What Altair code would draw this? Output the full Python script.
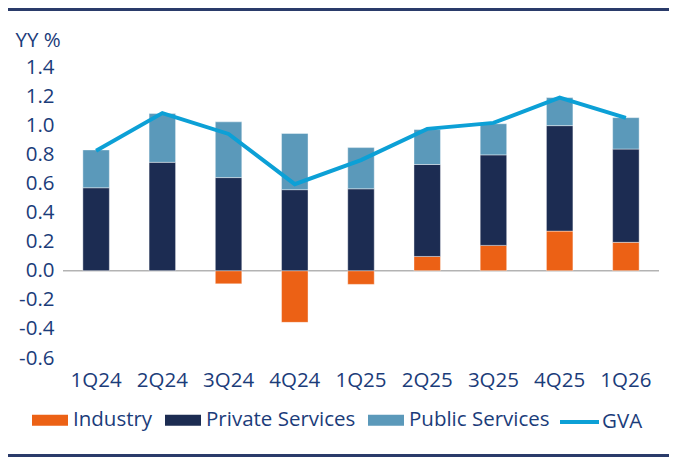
import altair as alt
import pandas as pd

quarters = ["1Q24", "2Q24", "3Q24", "4Q24", "1Q25", "2Q25", "3Q25", "4Q25", "1Q26"]
industry = [0.0, 0.0, -0.09, -0.355, -0.094, 0.098, 0.174, 0.272, 0.195]
private_services = [0.57, 0.745, 0.64, 0.557, 0.563, 0.632, 0.622, 0.725, 0.641]
public_services = [0.26, 0.335, 0.383, 0.386, 0.283, 0.24, 0.214, 0.193, 0.216]
gva = [0.825, 1.083, 0.94, 0.595, 0.76, 0.975, 1.016, 1.19, 1.05]
y_ticks = [-0.6, -0.4, -0.2, 0.0, 0.2, 0.4, 0.6, 0.8, 1.0, 1.2, 1.4]

bar_series = ["Industry", "Private Services", "Public Services"]
bar_colors = ["#ec6115", "#1c2c52", "#5b99ba"]
line_color = "#0ca0d6"
text_color = "#1b3c7a"
rule_color = "#2a3b6a"
FONT = "Open Sans"
FS = 20.5

rows = []
for i, q in enumerate(quarters):
    for k, (name, vals) in enumerate(zip(bar_series, [industry, private_services, public_services])):
        rows.append({"q": q, "series": name, "value": vals[i], "ord": k})
bars_df = pd.DataFrame(rows)
line_df = pd.DataFrame({"q": quarters, "value": gva, "series": ["GVA"] * len(quarters)})

x_axis = alt.Axis(
    title=None, domain=False, ticks=False, labelAngle=0,
    labelFont=FONT, labelFontSize=FS, labelColor=text_color, labelPadding=12,
)
x_scale = alt.Scale(paddingInner=0.6, paddingOuter=0.3)

y_axis = alt.Axis(
    values=y_ticks, grid=False, domain=False, ticks=False, labelOverlap=False,
    labelExpr="(datum.value < -0.0001 ? '-' : '') + format(abs(datum.value), '.1f')",
    labelFont=FONT, labelFontSize=FS, labelColor=text_color, labelPadding=9,
    title="YY %", titleAngle=0, titleFont=FONT, titleFontSize=FS, titleFontWeight="normal",
    titleColor=text_color, titleAlign="left", titleBaseline="middle",
    titleX=-48, titleY=-27,
)
y_scale = alt.Scale(domain=[-0.6, 1.4], nice=False, zero=False)

zero_rule = alt.Chart(pd.DataFrame({"z": [0]})).mark_rule(color="#b3b3b3", strokeWidth=1.5).encode(
    y=alt.Y("z:Q", scale=y_scale, axis=y_axis)
)

bars = alt.Chart(bars_df).mark_bar(stroke="white", strokeWidth=0.8, strokeOpacity=0.5).encode(
    x=alt.X("q:N", sort=quarters, scale=x_scale, axis=x_axis),
    y=alt.Y("value:Q", stack="zero", scale=y_scale, axis=y_axis),
    color=alt.Color(
        "series:N",
        scale=alt.Scale(domain=bar_series, range=bar_colors),
        legend=alt.Legend(
            title=None, orient="none", direction="horizontal", legendX=-31, legendY=335,
            symbolType="M-1,-0.3H1V0.3H-1Z", symbolSize=1296, symbolStrokeWidth=0,
            labelFont=FONT, labelFontSize=FS, labelColor=text_color, labelOffset=5,
            columnPadding=12, padding=0, labelLimit=400,
        ),
    ),
    order=alt.Order("ord:Q", sort="ascending"),
)

line = alt.Chart(line_df).mark_line(strokeWidth=4).encode(
    x=alt.X("q:N", sort=quarters, scale=x_scale, axis=x_axis),
    y=alt.Y("value:Q", scale=y_scale, axis=y_axis),
    color=alt.Color(
        "series:N",
        scale=alt.Scale(domain=["GVA"], range=[line_color]),
        legend=alt.Legend(
            title=None, orient="none", direction="horizontal", legendX=495, legendY=333.5,
            symbolType="stroke", symbolSize=1521, symbolStrokeWidth=4,
            labelFont=FONT, labelFontSize=FS, labelColor=text_color, labelOffset=1,
            padding=0, labelLimit=400,
        ),
    ),
)

top_rule = alt.Chart(pd.DataFrame({"a": [0]})).mark_rule(color=rule_color, strokeWidth=3).encode(
    x=alt.value(-55), x2=alt.value(606), y=alt.value(-57.5)
)
bottom_rule = alt.Chart(pd.DataFrame({"a": [0]})).mark_rule(color=rule_color, strokeWidth=3).encode(
    x=alt.value(-55), x2=alt.value(606), y=alt.value(388.5)
)

chart = (
    alt.layer(zero_rule, bars, line, top_rule, bottom_rule)
    .resolve_scale(color="independent")
    .resolve_legend(color="independent")
    .properties(
        width=596, height=291,
        autosize=alt.AutoSizeParams(type="none"),
        padding={"left": 55, "top": 59, "right": 10, "bottom": 100},
    )
    .configure_view(stroke=None)
    .configure_axis(labelOverlap=False)
)

chart.save("out.html", embed_options={"renderer": "svg", "actions": False})
